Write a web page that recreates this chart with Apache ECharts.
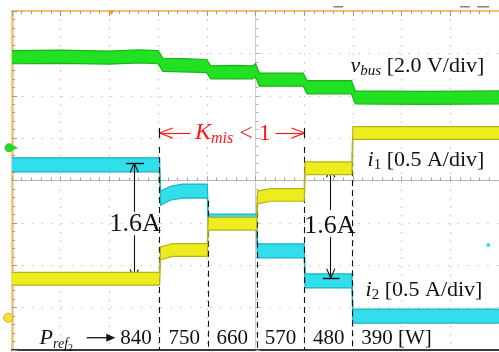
<!DOCTYPE html>
<html>
<head>
<meta charset="utf-8">
<script src="https://cdn.jsdelivr.net/npm/echarts@6/dist/echarts.min.js"></script>
<style>
html,body{margin:0;padding:0;background:#fff;}
#chart{width:499px;height:352px;}
</style>
</head>
<body>
<div id="chart"></div>
<script>
// ---- data (oscilloscope traces, in screen divisions: x = time div from centre, y = div from centre)
const vbusTrace = [[-5.0,2.91],[-4.0,2.92],[-3.0,2.90],[-2.4,2.93],[-2.0,2.91],[-1.90,2.73],[-1.5,2.72],[-1.0,2.70],[-0.92,2.55],[-0.4,2.56],[-0.06,2.55],[0.0,2.60],[0.08,2.38],[0.6,2.38],[0.98,2.38],[1.06,2.20],[1.5,2.20],[1.97,2.20],[2.05,1.96],[3.5,1.95],[5.0,1.96]];
const i2Trace = [[-5.0,0.37],[-1.97,0.37],[-1.95,-0.42],[-1.75,-0.30],[-1.5,-0.25],[-0.99,-0.25],[-0.97,-0.96],[0.02,-0.96],[0.04,-1.66],[1.00,-1.66],[1.02,-2.37],[1.98,-2.37],[2.00,-3.20],[5.0,-3.20]];
const i1Trace = [[-5.0,-2.32],[-1.97,-2.32],[-1.95,-1.72],[-1.7,-1.64],[-0.99,-1.64],[-0.97,-1.02],[0.02,-1.02],[0.04,-0.40],[0.3,-0.34],[1.00,-0.34],[1.02,0.29],[1.98,0.29],[2.00,1.12],[5.0,1.12]];
const stepTimes = [-1.97, -0.98, 0.03, 1.01, 1.99];
const powerLabels = ['840','750','660','570','480','390 [W]'];
const powerLabelX = [-2.455, -1.465, -0.475, 0.515, 1.505, 2.17];
const deltaLabel = '1.6A';

const chart = echarts.init(document.getElementById('chart'), null, {renderer:'canvas'});

function traceSeries(name, trace, h, fill, edge, z){
  return {
    name:name, type:'custom', coordinateSystem:'cartesian2d', xAxisIndex:0, yAxisIndex:0,
    data:[[trace[0][0], trace[0][1]]], z:z, silent:true, animation:false, clip:true,
    renderItem:function(params, api){
      const up = trace.map(p=>api.coord([p[0], p[1]+h]));
      const lo = trace.map(p=>api.coord([p[0], p[1]-h]));
      return {type:'group', children:[
        {type:'polygon', shape:{points:up.concat(lo.slice().reverse())}, style:{fill:fill, stroke:null}},
        {type:'polyline', shape:{points:up}, style:{stroke:edge, fill:null, lineWidth:1.2}},
        {type:'polyline', shape:{points:lo}, style:{stroke:edge, fill:null, lineWidth:1.2}}
      ]};
    }
  };
}

const gridC = '#c4c4c4';
const frameOrange = '#f0c272';

// annotation lines
const ml = [];
function seg(a, b, color, type, width){
  ml.push([{coord:a, symbol:'none', lineStyle:{color:color, type:type||'solid', width:width||1}}, {coord:b, symbol:'none'}]);
}
function vHead(x, y, dir, color){
  seg([x-0.085, y-dir*0.22],[x,y],color,'solid',1.1);
  seg([x+0.085, y-dir*0.22],[x,y],color,'solid',1.1);
}
function hHead(x, y, dir, color){
  seg([x-dir*0.27, y+0.12],[x,y],color,'solid',1.2);
  seg([x-dir*0.27, y-0.12],[x,y],color,'solid',1.2);
}
const dashTops = [0.79, -0.48, -0.50, 0.79, 0.95];
stepTimes.forEach((t,i)=>seg([t, dashTops[i]],[t,-4.0],'#111',[6,4],1.1));
[[-2.49, 0.41, -2.32, -0.74, -1.29, -2.66, -2.29],[1.545, 0.295, -2.30, -0.70, -1.33, 1.384, 1.727]].forEach(a=>{
  const [x, top, bot, g1, g2, bl, br] = a;
  seg([x,g1],[x,top],'#111','solid',1.1); vHead(x, top, 1, '#111');
  seg([x,g2],[x,bot],'#111','solid',1.1); vHead(x, bot, -1, '#111');
  seg([bl,top],[br,top],'#111','solid',1.4);
  seg([bl,bot],[br,bot],'#111','solid',1.4);
});
const red = '#ff1a1a';
seg([-1.97,1.12],[-1.34,1.12],red,'solid',1.2); hHead(-1.97,1.12,-1,red);
seg([0.41,1.12],[1.01,1.12],red,'solid',1.2); hHead(1.01,1.12,1,red);
seg([-1.97,1.24],[-1.97,1.00],'#111','solid',1.2);
seg([1.01,1.24],[1.01,1.00],'#111','solid',1.2);

const option = {
  backgroundColor:'#ffffff',
  animation:false,
  grid:{left:12, top:11, width:495, height:339, containLabel:false},
  xAxis:[
    {type:'value', min:-5, max:5, interval:1, position:'top',
     axisLine:{show:true, onZero:false, lineStyle:{color:frameOrange, width:2}},
     axisTick:{show:true, inside:true, length:5, lineStyle:{color:'#9a9a9a'}},
     minorTick:{show:true, splitNumber:5, length:3, lineStyle:{color:'#9a9a9a'}},
     axisLabel:{show:false},
     splitLine:{show:true, lineStyle:{color:gridC, type:[1.5,7], width:1.2}}},
    {type:'value', min:-5, max:5, interval:1, position:'bottom',
     axisLine:{show:true, onZero:false, lineStyle:{color:'#3a3a3a', width:2}},
     axisTick:{show:false}, axisLabel:{show:false}, splitLine:{show:false}},
    {type:'value', min:-5, max:5, interval:1, position:'bottom',
     axisLine:{show:true, onZero:true, lineStyle:{color:'#b8b8b8', width:1}},
     axisTick:{show:true, inside:true, length:4, lineStyle:{color:'#a0a0a0'}},
     minorTick:{show:true, splitNumber:5, length:3, lineStyle:{color:'#a0a0a0'}},
     axisLabel:{show:false}, splitLine:{show:false}}
  ],
  yAxis:[
    {type:'value', min:-4, max:4, interval:1, position:'left',
     axisLine:{show:true, onZero:false, lineStyle:{color:frameOrange, width:2.5}},
     axisTick:{show:true, inside:true, length:5, lineStyle:{color:'#9a9a9a'}},
     minorTick:{show:true, splitNumber:5, length:3, lineStyle:{color:'#9a9a9a'}},
     axisLabel:{show:false},
     splitLine:{show:true, lineStyle:{color:gridC, type:[1.5,8.4], width:1.2}}},
    {type:'value', min:-4, max:4, interval:1, position:'left',
     axisLine:{show:true, onZero:true, lineStyle:{color:'#d0d0d0', width:1}},
     axisTick:{show:true, inside:true, length:4, lineStyle:{color:'#b0b0b0'}},
     minorTick:{show:true, splitNumber:5, length:3, lineStyle:{color:'#b0b0b0'}},
     axisLabel:{show:false}, splitLine:{show:false}}
  ],
  series:[
    traceSeries('vbus', vbusTrace, 0.155, '#22e022', '#17b517', 3),
    traceSeries('i2', i2Trace, 0.165, '#30dfeb', '#1bb2bf', 4),
    traceSeries('i1', i1Trace, 0.15, '#ecec1e', '#b3b31a', 5),
    {type:'line', data:[], z:8, silent:true,
     markLine:{silent:true, symbol:'none', animation:false, label:{show:false}, data:ml}}
  ]
};
chart.setOption(option);

// ---- text annotations (anchored in data coordinates)
const mctx = document.createElement('canvas').getContext('2d');
const FAM = '"Liberation Serif", "Times New Roman", serif';
function fontOf(p){ return (p.i?'italic ':'') + p.s + 'px ' + FAM; }
const gfx = [];
function runs(anchor, parts, align, color){
  const p = chart.convertToPixel({xAxisIndex:0, yAxisIndex:0}, anchor);
  let total = 0;
  parts.forEach(q=>{ mctx.font = fontOf(q); q.w = mctx.measureText(q.t).width; total += q.w; });
  let x = p[0] - (align==='right' ? total : align==='center' ? total/2 : 0);
  parts.forEach(q=>{
    gfx.push({type:'text', x:x, y:p[1]+(q.dy||0), z:100, silent:true,
      style:{text:q.t, font:fontOf(q), fill:q.c||color||'#111', verticalAlign:'middle', align:'left'}});
    x += q.w;
  });
}
runs([4.70, 2.70], [{t:'v',s:22,i:true},{t:'bus',s:15,i:true,dy:5},{t:' [2.0 V/div]',s:22}], 'right');
runs([4.70, 0.48], [{t:'i',s:22,i:true},{t:'1',s:15,dy:5},{t:' [0.5 A/div]',s:22}], 'right');
runs([4.66, -2.58], [{t:'i',s:22,i:true},{t:'2',s:15,dy:5},{t:' [0.5 A/div]',s:22}], 'right');
runs([-0.465, 1.12], [{t:'K',s:24,i:true},{t:'mis',s:16,i:true,dy:6},{t:' < 1',s:24,dy:1}], 'center', red);
runs([-2.47, -1.03], [{t:deltaLabel,s:26}], 'center');
runs([1.53, -1.07], [{t:deltaLabel,s:26}], 'center');
powerLabels.forEach((lab,i)=>{
  runs([powerLabelX[i], -3.73], [{t:lab,s:21}], i===powerLabels.length-1 ? 'left' : 'center');
});
runs([-4.434, -3.73], [{t:'P',s:22,i:true},{t:'ref',s:14,i:true,dy:6},{t:'2',s:10,dy:10}], 'left');

function px(d){ return chart.convertToPixel({xAxisIndex:0, yAxisIndex:0}, d); }
(function(){
  const a = px([-3.465, -3.71]);
  const b = px([-2.879, -3.71]);
  gfx.push({type:'line', z:100, silent:true, shape:{x1:a[0], y1:a[1], x2:b[0]-7, y2:b[1]}, style:{stroke:'#111', lineWidth:1.3}});
  gfx.push({type:'polygon', z:100, silent:true, shape:{points:[[b[0],b[1]],[b[0]-9,b[1]-4],[b[0]-9,b[1]+4]]}, style:{fill:'#111'}});
})();

(function(){
  const g = px([-5.06, 0.77]);
  gfx.push({type:'circle', z:90, silent:true, shape:{cx:g[0], cy:g[1], r:4.5}, style:{fill:'#2bd62b'}});
  gfx.push({type:'polygon', z:90, silent:true, shape:{points:[[g[0]+3,g[1]-3],[g[0]+9,g[1]],[g[0]+3,g[1]+3]]}, style:{fill:'#2bd62b'}});
  const y = px([-5.08, -3.24]);
  gfx.push({type:'circle', z:90, silent:true, shape:{cx:y[0], cy:y[1], r:4.5}, style:{fill:'#f3e23a', stroke:'#e0b020', lineWidth:1}});
  const t = px([-2.96, 3.97]);
  gfx.push({type:'polygon', z:90, silent:true, shape:{points:[[t[0]-3,t[1]-2],[t[0]+3,t[1]-2],[t[0],t[1]+3]]}, style:{fill:'#f29a2a'}});
  const c = px([4.78, -1.52]);
  gfx.push({type:'circle', z:90, silent:true, shape:{cx:c[0], cy:c[1], r:2}, style:{fill:'#30dfeb'}});
  [[1.6,1.8],[4.2,4.4],[4.55,4.8]].forEach(s=>{
    const a = px([s[0], 4.1]), b = px([s[1], 4.1]);
    gfx.push({type:'line', z:90, silent:true, shape:{x1:a[0], y1:a[1], x2:b[0], y2:b[1]}, style:{stroke:'#8a7f8a', lineWidth:1.5}});
  });
})();

chart.setOption({graphic: gfx});
</script>
</body>
</html>
